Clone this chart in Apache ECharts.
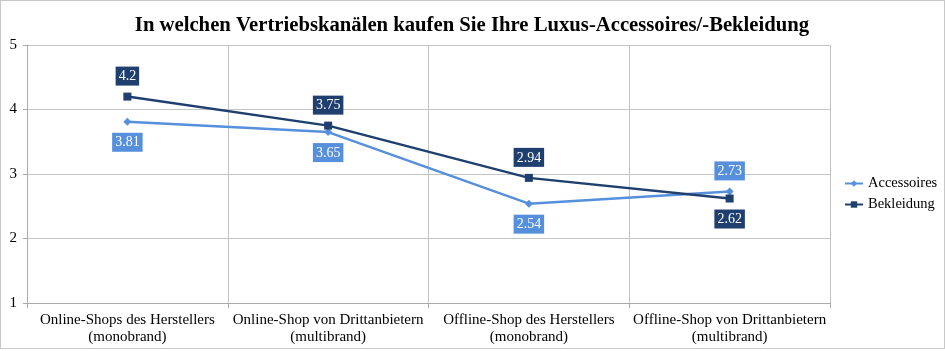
<!DOCTYPE html>
<html>
<head>
<meta charset="utf-8">
<script src="https://cdn.jsdelivr.net/npm/echarts@6/dist/echarts.min.js"></script>
<style>
  html, body { margin: 0; padding: 0; background: #fff; }
  #chart { width: 943px; height: 347px; border: 1px solid #c8c8c8; }
</style>
</head>
<body>
<div id="chart"></div>
<script>
// data
var categories = [
  'Online-Shops des Herstellers\n(monobrand)',
  'Online-Shop von Drittanbietern\n(multibrand)',
  'Offline-Shop des Herstellers\n(monobrand)',
  'Offline-Shop von Drittanbietern\n(multibrand)'
];
var accessoires = [3.81, 3.65, 2.54, 2.73];
var bekleidung = [4.2, 3.75, 2.94, 2.62];
var accLabelPos = ['bottom', 'bottom', 'bottom', 'top'];
var bekLabelPos = ['top', 'top', 'top', 'bottom'];

var FONT = '"Liberation Serif", "DejaVu Serif", serif';
var LIGHT = '#5690dc';
var DARK = '#1f3f6e';

function withLabels(values, positions, color) {
  return values.map(function (v, i) {
    return {
      value: v,
      label: {
        show: true,
        position: positions[i],
        distance: 7,
        color: '#fff',
        backgroundColor: color,
        padding: [3, 3, 2, 3],
        fontFamily: FONT,
        fontSize: 14
      }
    };
  });
}

var chart = echarts.init(document.getElementById('chart'));
chart.setOption({
  animation: false,
  title: {
    text: 'In welchen Vertriebskanälen kaufen Sie Ihre Luxus-Accessoires/-Bekleidung',
    left: 466, top: 9, textAlign: 'center',
    textStyle: { fontFamily: FONT, fontWeight: 'bold', fontSize: 20.7, color: '#000' }
  },
  legend: {
    orient: 'vertical',
    left: 838, top: 170,
    itemWidth: 18, itemHeight: 8, itemGap: 6,
    textStyle: { fontFamily: FONT, fontSize: 14.5, color: '#000' },
    data: ['Accessoires', 'Bekleidung']
  },
  grid: { left: 26, right: 114, top: 44, bottom: 45 },
  xAxis: {
    type: 'category',
    data: categories,
    boundaryGap: true,
    axisLine: { lineStyle: { color: '#aaa' } },
    axisTick: { show: true, interval: 0, lineStyle: { color: '#aaa' } },
    splitLine: { show: true, interval: 0, lineStyle: { color: '#c4c4c4' } },
    axisLabel: { interval: 0, fontFamily: FONT, fontSize: 15, color: '#000', lineHeight: 17, margin: 9 }
  },
  yAxis: {
    type: 'value',
    min: 1, max: 5, interval: 1,
    axisLine: { show: true, lineStyle: { color: '#aaa' } },
    axisTick: { show: true, length: 4, lineStyle: { color: '#aaa' } },
    splitLine: { lineStyle: { color: '#c4c4c4' } },
    axisLabel: { fontFamily: FONT, fontSize: 15, color: '#000', margin: 10 }
  },
  series: [
    {
      name: 'Accessoires',
      type: 'line',
      data: withLabels(accessoires, accLabelPos, LIGHT),
      symbol: 'diamond', symbolSize: 8,
      itemStyle: { color: LIGHT },
      lineStyle: { color: LIGHT, width: 2.5 }
    },
    {
      name: 'Bekleidung',
      type: 'line',
      data: withLabels(bekleidung, bekLabelPos, DARK),
      symbol: 'rect', symbolSize: 8,
      itemStyle: { color: DARK },
      lineStyle: { color: DARK, width: 2.5 }
    }
  ]
});
</script>
</body>
</html>
